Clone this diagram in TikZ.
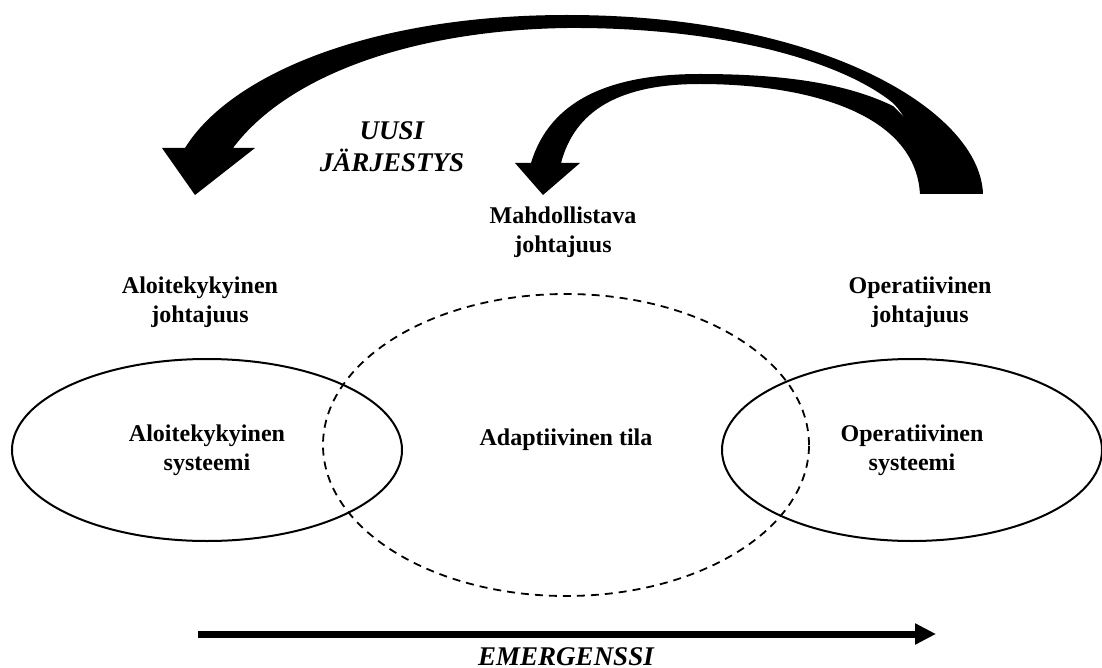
\documentclass[tikz,border=0pt]{standalone}
\usepackage{fontspec}
\setmainfont{Liberation Serif}
\usepackage{tikz}
\usetikzlibrary{arrows.meta,positioning,shapes.geometric}

\begin{document}
\begin{tikzpicture}[
			x=0.5pt,y=-0.5pt,
			every node/.style={font=\fontsize{12pt}{14.5pt}\selectfont\bfseries,align=center},
			sysell/.style={draw,ellipse,line width=1pt,minimum width=195pt,minimum height=91pt,inner sep=0pt},
			adapell/.style={draw,ellipse,dashed,dash pattern=on 4pt off 3pt,line width=0.9pt,minimum width=243pt,minimum height=151pt,inner sep=0pt},
			ital/.style={font=\fontsize{13.5pt}{16pt}\selectfont\bfseries\itshape},
			emarr/.style={-{Triangle[length=10.5pt,width=10pt]},line width=3.5pt},
			curvearr/.style={fill=black,draw=none}
			]
			\useasboundingbox (0,0) rectangle (1102,668);
			% systems
			\node[sysell] (ls) at (207,450) {Aloitekykyinen\\systeemi};
			\node[sysell,minimum width=190pt] (os) at (912,450) {Operatiivinen\\systeemi};
			\node[adapell] (ad) at (566,445) {};
			\node (adt) at (566,440) {Adaptiivinen tila};
			% leadership
			\node (lj) at (200,302) {Aloitekykyinen\\johtajuus};
			\node (oj) at (920,302) {Operatiivinen\\johtajuus};
			\node (mj) at (563,232) {Mahdollistava\\johtajuus};
			\node[ital] (uj) at (392,147) {UUSI\\JÄRJESTYS};
			% big curved arrow
			\fill[curvearr] (983,194) .. controls (980,110) and (820,15) .. (567,15)
				.. controls (370,15) and (230,75) .. (185,148)
				-- (162,148) -- (195,195) -- (255,148) -- (233,148)
				.. controls (290,72) and (420,30) .. (567,28)
				.. controls (720,27) and (840,60) .. (893,103)
				.. controls (915,125) and (920,160) .. (920,194) -- cycle;
			% small curved arrow
			\fill[curvearr] (920,194) .. controls (915,110) and (800,84) .. (700,84)
				.. controls (620,84) and (575,110) .. (561,163)
				-- (580,163) -- (543,195) -- (515,163) -- (531,163)
				.. controls (550,100) and (610,74) .. (700,74)
				.. controls (790,74) and (850,85) .. (893,106)
				-- (983,194) -- cycle;
			% emergence
			\coordinate (e0) at (198,634);
			\coordinate (e1) at (936,634);
			\draw[emarr] (e0) -- (e1);
			\node[ital,inner sep=0pt,anchor=base] (em) at (566,665) {EMERGENSSI};
		\end{tikzpicture}
\end{document}
